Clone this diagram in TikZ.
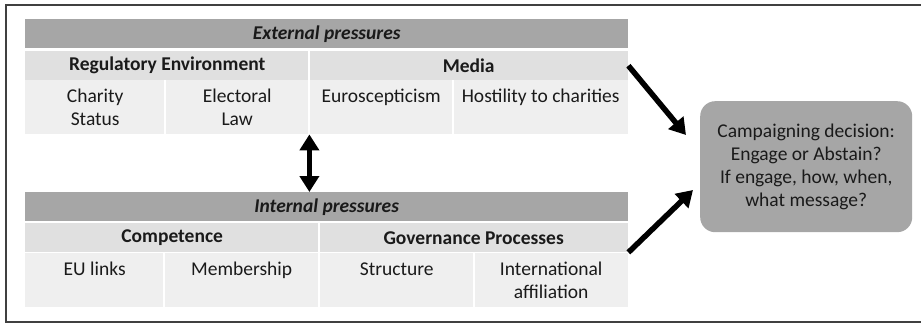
\documentclass[tikz,border=0pt]{standalone}
\usepackage{fontspec}
\setmainfont{Carlito}
\usetikzlibrary{arrows.meta, positioning}
\definecolor{bargray}{HTML}{A6A6A6}
\definecolor{headgray}{HTML}{E0E0E0}
\definecolor{cellgray}{HTML}{EFEFEF}
\definecolor{ink}{HTML}{1A1A1A}

\begin{document}
\begin{tikzpicture}[x=1pt, y=-1pt,
	every node/.style={inner sep=0, anchor=north west, align=center, text=ink, font=\fontsize{19.5}{23}\selectfont},
	bar/.style={fill=bargray, minimum height=29pt, minimum width=603pt, font=\fontsize{19.5}{23}\selectfont\bfseries\itshape},
	head/.style={fill=headgray, minimum height=29pt, font=\fontsize{19.5}{23}\selectfont\bfseries},
	cell/.style={fill=cellgray, minimum height=54pt},
	sep/.style={draw=white, line width=1.5pt},
	big/.style={line width=5.5pt, -{Triangle[width=19pt,length=16pt]}}]
		\useasboundingbox (0,0) rectangle (921,324);
		\draw[black!75, line width=1.5pt] (921,5) -- (6,5) -- (6,322) -- (921,322);
		
		% external
		\node[bar] (ext) at (25,19) {External pressures};
		\node[head, minimum width=284pt] (regenv) at (25,51) {Regulatory Environment};
		\node[head, minimum width=319pt] (media) at (309,51) {Media};
		\node[cell, minimum width=140pt] (charity) at (25,80) {Charity\\Status};
		\node[cell, minimum width=144pt] (electoral) at (165,80) {Electoral\\Law};
		\node[cell, minimum width=144pt] (euro) at (309,80) {Euroscepticism\\~};
		\node[cell, minimum width=175pt] (hostility) at (453,80) {Hostility to charities\\~};
		\draw[sep] (media.north west) -- (media.south west);
		\draw[sep] (electoral.north west) -- (electoral.south west);
		\draw[sep] (euro.north west) -- (euro.south west);
		\draw[sep] (hostility.north west) -- (hostility.south west);
		
		% internal
		\node[bar] (int) at (25,192) {Internal pressures};
		\node[head, minimum width=294pt] (comp) at (25,223) {Competence};
		\node[head, minimum width=309pt] (gov) at (319,223) {Governance Processes};
		\node[cell, minimum width=139pt] (eulinks) at (25,253) {EU links\\~};
		\node[cell, minimum width=155pt] (member) at (164,253) {Membership\\~};
		\node[cell, minimum width=155pt] (structure) at (319,253) {Structure\\~};
		\node[cell, minimum width=154pt] (intl) at (474,253) {International\\affiliation};
		\draw[sep] (gov.north west) -- (gov.south west);
		\draw[sep] (member.north west) -- (member.south west);
		\draw[sep] (structure.north west) -- (structure.south west);
		\draw[sep] (intl.north west) -- (intl.south west);
		
		% decision
		\node[fill=bargray, rounded corners=15pt, minimum width=212pt, minimum height=131pt] (decision) at (700,101) {Campaigning decision:\\Engage or Abstain?\\If engage, how, when,\\what message?};
		\coordinate (tipA) at (686,135);
		\coordinate (tipB) at (693,190);
		\draw[big] (media.east) -- (tipA);
		\draw[big] (gov.south east) -- (tipB);
		\draw[big, {Triangle[width=19pt,length=16pt]}-{Triangle[width=19pt,length=16pt]}] (electoral.south east) -- (electoral.south east |- int.north);
	\end{tikzpicture}
\end{document}
